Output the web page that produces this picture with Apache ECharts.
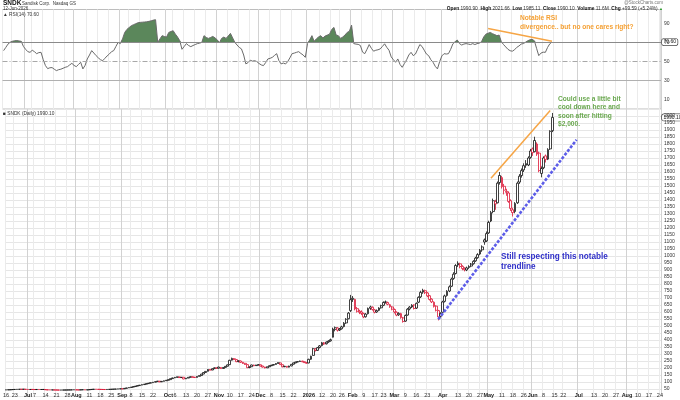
<!DOCTYPE html>
<html>
<head>
<meta charset="utf-8">
<title>SNDK daily</title>
<script src="https://cdn.jsdelivr.net/npm/echarts@6/dist/echarts.min.js"></script>
<style>
  html, body { margin: 0; padding: 0; background: #fff; }
  #chart { width: 680px; height: 400px; }
</style>
</head>
<body>
<div id="chart"></div>
<script>
// trading calendar
const firstDay = '2025-06-16';
const lastDay = '2026-08-24';
const holidays = ['2025-06-19', '2025-07-04', '2025-09-01', '2025-11-27', '2025-12-25',
  '2026-01-01', '2026-01-19', '2026-02-16', '2026-04-03', '2026-05-25', '2026-06-19', '2026-07-03'];

// daily candles: [open, close, low, high]
const jun25 = [
  [43.2,43.9,42.8,44.3],[44.0,44.6,43.6,45.0],[44.5,45.3,44.1,45.8],[45.6,46.2,45.1,46.8],[46.4,47.0,46.0,47.5],
  [47.1,47.6,46.7,48.2],[47.8,48.1,47.2,48.7],[48.2,47.9,47.4,48.6],[48.0,48.6,47.6,49.1],[48.4,47.3,46.9,48.7]
];
const jul25 = [
  [47.0,46.4,45.9,47.5],[46.5,46.9,46.1,47.3],[47.0,46.6,46.2,47.4],[46.5,46.1,45.5,46.9],[46.2,46.8,45.8,47.2],
  [46.9,46.3,45.9,47.3],[46.4,46.6,46.0,47.1],[46.5,46.9,46.1,47.4],[46.3,44.5,44.1,46.6],[44.6,43.6,43.2,45.0],
  [43.7,43.2,42.8,44.1],[43.3,43.5,42.9,44.0],[43.4,43.0,42.6,43.9],[43.1,42.6,42.1,43.5],[42.7,42.1,41.7,43.0],
  [42.2,42.4,41.8,42.9],[42.5,42.6,42.0,43.1],[42.6,42.9,42.2,43.3],[42.9,43.2,42.5,43.6],[43.2,43.4,42.9,43.9],
  [43.5,43.9,43.1,44.3],[44.0,44.5,43.6,45.0]
];
const aug25 = [
  [44.2,43.6,43.1,44.6],[43.7,43.3,42.8,44.0],[43.4,44.2,43.0,44.6],[44.3,44.8,43.9,45.3],[44.7,43.2,42.8,44.9],
  [43.4,44.5,43.0,44.9],[44.6,46.0,44.3,46.5],[46.1,47.3,45.8,47.8],[47.4,48.5,47.0,49.0],[48.4,47.9,47.4,48.9],
  [47.8,47.2,46.7,48.2],[47.3,46.8,46.2,47.7],[46.9,46.4,45.9,47.3],[46.5,46.2,45.7,46.9],[46.3,46.9,45.9,47.4],
  [47.0,47.6,46.6,48.1],[47.7,48.3,47.3,48.8],[48.4,49.0,48.0,49.6],[49.1,49.6,48.7,50.2],[49.7,50.8,49.3,51.3],
  [50.9,51.6,50.4,52.0]
];
const sep25 = [
  [51.4,51.1,50.5,52.0],[51.3,54.5,51.0,55.0],[54.7,57.6,54.2,58.2],[57.8,60.6,57.3,61.3],[60.9,63.7,60.3,64.4],
  [64.0,67.2,63.5,67.9],[67.5,70.6,66.9,71.4],[70.9,74.1,70.3,75.0],[74.4,77.6,73.7,78.5],[77.9,81.2,77.2,82.1],
  [81.5,84.6,80.8,85.5],[84.9,88.2,84.2,89.3],[88.5,91.5,87.7,92.6],[91.7,95.0,90.9,96.1],[95.3,98.7,94.5,99.9],
  [98.9,102.4,98.1,103.6],[102.7,106.3,101.8,107.6],[106.0,100.8,99.6,106.9],[101.2,104.5,100.4,105.6],[104.8,108.9,104.0,110.0],
  [109.2,112.6,108.3,113.8]
];
const oct25 = [
  [112.8,116.5,111.9,117.8],[117.0,123.8,116.4,125.0],[124.2,129.0,123.0,130.6],[129.4,133.2,127.8,134.9],[133.0,136.9,131.6,138.5],
  [136.2,131.5,130.1,137.4],[131.8,134.0,129.5,135.6],[134.2,121.5,120.2,135.0],[122.5,127.4,121.0,128.8],[128.0,133.5,126.6,134.8],
  [133.8,137.6,132.2,139.5],[137.0,134.2,132.6,138.4],[134.5,131.8,130.0,135.6],[132.4,140.2,131.6,141.8],[140.5,145.3,139.2,147.0],
  [146.0,156.4,145.0,158.0],[157.0,167.5,155.8,169.4],[168.0,175.8,166.2,177.6],[176.5,189.6,175.0,191.8],[188.0,185.4,182.6,192.0],
  [186.0,194.8,184.5,197.2],[195.5,201.3,193.4,204.0],[200.5,197.6,194.8,203.2]
];
const nov25 = [
  [198.5,206.8,196.0,209.4],[204.0,195.6,193.2,206.5],[196.5,203.8,194.4,206.0],[204.5,211.9,202.6,214.2],[212.5,222.4,210.8,225.0],
  [224.0,255.2,222.5,258.4],[256.0,268.5,253.0,274.0],[266.0,261.8,256.4,271.2],[260.0,245.0,242.0,262.5],[246.0,251.6,240.5,255.0],
  [250.0,240.2,236.8,253.4],[241.0,232.4,228.6,244.0],[233.5,226.0,222.0,236.8],[224.0,202.2,199.5,226.5],[203.5,208.4,198.0,211.2],
  [209.0,221.6,207.4,224.0],[220.5,216.2,213.0,223.8],[217.0,220.4,215.2,223.0],[221.0,224.2,219.0,226.5]
];
const dec25 = [
  [223.0,214.0,211.0,225.0],[214.5,206.2,203.4,216.0],[206.8,200.4,197.5,208.4],[201.0,208.6,199.8,210.4],[209.0,216.4,207.2,218.6],
  [216.0,220.2,213.8,222.6],[220.8,224.6,218.6,227.0],[225.0,232.2,223.4,234.4],[232.5,238.0,230.6,240.8],[236.0,224.2,221.8,237.4],
  [223.5,208.6,205.0,225.0],[209.0,212.4,206.2,215.0],[212.0,205.4,202.6,214.0],[206.0,214.0,204.2,216.2],[214.6,226.2,213.0,228.4],
  [226.8,236.4,225.0,238.6],[236.0,242.2,234.4,244.6],[242.5,246.0,240.8,247.8],[246.4,250.2,244.6,252.6],[249.5,244.2,242.0,251.0],
  [244.5,238.4,236.2,246.0],[238.8,234.0,231.5,240.2]
];
const jan26 = [
  [236,262,234,266],[262.5,284,258,288],[290,338,288,344],[336,325,318,342],[326,345,322,350],
  [346,358,340,364],[360,380,355,386],[379,372,365,385],[373,385,368,390],[386,392,380,398],
  [394,402,388,410],[420,478,418,488],[476,488,462,496],[486,470,460,492],[471,478,464,486],
  [480,494,474,502],[496,520,490,528],[522,548,515,556],[552,592,548,600],[688,610,600,722]
];
const feb26 = [
  [690,698,672,714],[690,622,612,695],[624,605,596,636],[606,598,585,616],[600,590,578,612],
  [588,565,556,595],[566,585,560,592],[588,625,582,632],[626,636,615,645],[634,618,610,640],
  [615,598,590,622],[600,610,594,618],[612,628,606,634],[630,645,624,652],[648,668,642,676],
  [670,672,660,682],[668,655,648,674],[652,638,630,658],[636,620,612,642]
];
const mar26 = [
  [618,600,590,625],[598,578,570,605],[580,590,572,598],[588,560,552,594],[558,532,524,565],
  [535,575,530,582],[578,620,574,628],[622,635,612,642],[636,648,628,656],[650,625,618,655],
  [628,662,622,668],[670,705,664,712],[708,740,700,752],[742,755,730,766],[752,738,728,760],
  [736,715,706,742],[716,690,682,722],[692,672,664,698],[670,640,632,676],[642,612,604,648],
  [610,565,540,615],[570,590,560,598]
];
const apr26 = [
  [598,672,594,680],[676,715,668,724],[718,748,710,756],[750,780,742,790],[784,835,778,845],
  [840,870,830,884],[875,932,868,942],[936,948,922,962],[944,925,912,952],[926,910,898,934],
  [912,902,890,920],[900,915,892,924],[918,925,908,934],[928,942,920,950],[945,962,938,970],
  [965,985,958,994],[988,1010,980,1020],[1014,1040,1006,1050],[1044,1065,1030,1076],[1115,1100,1080,1125],
  [1108,1160,1100,1175]
];
const may26 = [
  [1165,1240,1158,1252],[1250,1310,1242,1322],[1318,1395,1305,1410],[1390,1372,1330,1402],[1380,1520,1376,1532],
  [1525,1575,1510,1600],[1560,1495,1482,1572],[1498,1470,1440,1515],[1462,1455,1430,1480],[1450,1390,1380,1462],
  [1395,1340,1322,1405],[1330,1310,1282,1345],[1318,1375,1305,1385],[1380,1520,1372,1532],[1528,1570,1515,1585],
  [1575,1610,1560,1625],[1615,1645,1600,1662],[1660,1648,1630,1685],[1650,1700,1642,1712],[1705,1750,1695,1765]
];
const jun26 = [
  [1765,1738,1715,1775],[1745,1825,1740,1852],[1800,1728,1715,1812],[1735,1610,1598,1745],[1590,1625,1562,1640],
  [1630,1700,1620,1712],[1715,1690,1668,1725],[1692,1760,1685,1770],[1765,1890.51,1758,1898],[1895,1990.10,1885,2021.66]
];

// RSI(14), one value per candle
const rsiJun25 = [61.6, 65, 68.5, 70.5, 71.5, 72, 72.2, 71.8, 71.4, 66];
const rsiJul25 = [63, 60.5, 59.8, 62, 60.5, 58.4, 59.5, 59.8, 52, 45.8, 42.6, 43.5, 43.7, 42, 40.5, 41.5, 42, 43, 44, 44.7, 46.5, 48.2];
const rsiAug25 = [46, 44.7, 47, 49.3, 42.3, 46, 52.8, 57, 61.6, 59, 56.3, 54, 52, 51, 53.5, 56, 58, 60.5, 61.6, 66, 70.3];
const rsiSep25 = [69, 74, 80.8, 84, 86, 87.9, 89, 90, 91, 91.4, 91.6, 91.8, 92, 92.5, 93, 93.8, 94.2, 70.3, 74, 77.4, 76.5];
const rsiOct25 = [75.9, 80.8, 81.8, 82.6, 79, 75.9, 72, 63, 66, 69, 67, 65.8, 67, 68, 69, 69.5, 70.3, 77.4, 75.5, 74.5, 75.5, 76.6, 75];
const rsiNov25 = [73, 70, 74.5, 75.9, 74.5, 77, 79.8, 75, 70.3, 67.5, 65, 63.4, 57, 47.6, 49, 51.5, 50.5, 51, 50];
const rsiDec25 = [48, 46.5, 45.8, 49, 52.8, 53.5, 54.5, 56.5, 58.4, 51, 47.6, 48.5, 47.5, 50, 54, 58.4, 59, 59.8, 60.5, 58.6, 57, 54.5];
const rsiJan26 = [69, 73, 77.4, 71.4, 74, 76, 77.4, 75, 77, 78, 79, 84, 86.1, 78, 77.4, 74.5, 76, 78, 80.8, 82];
const rsiFeb26 = [88.5, 69, 68.5, 68.2, 67, 60, 58.4, 63, 68, 64, 61, 62, 62.5, 63.4, 66, 68.8, 65, 62, 55];
const rsiMar26 = [52, 49.3, 52.8, 47, 44, 48, 52, 57, 59.8, 56.3, 58, 63, 68, 66, 62, 58, 56.3, 52, 49.3, 45, 42.3, 50];
const rsiApr26 = [56, 58.4, 58, 58.4, 63, 68.8, 71, 72.8, 69, 67.5, 68.5, 69, 68.5, 68, 69, 68, 69, 69.5, 71, 76, 79];
const rsiMay26 = [80, 80.8, 79.5, 78.5, 77.4, 78, 71, 68, 65.5, 63, 61.5, 61, 62.5, 65, 66.5, 68.5, 69, 70.5, 72, 73];
const rsiJun26 = [73.5, 72, 64, 56.3, 59, 60, 59.8, 65, 68.8, 70.6];

// bottom axis labels: trading day -> text
const tickLabels = [
  ['2025-06-16','16'],['2025-06-23','23'],['2025-07-01','Jul'],['2025-07-07','7'],['2025-07-14','14'],['2025-07-21','21'],
  ['2025-07-28','28'],['2025-08-01','Aug'],['2025-08-11','11'],['2025-08-18','18'],['2025-08-25','25'],['2025-09-02','Sep'],
  ['2025-09-08','8'],['2025-09-15','15'],['2025-09-22','22'],['2025-10-01','Oct'],['2025-10-06','6'],['2025-10-13','13'],
  ['2025-10-20','20'],['2025-10-27','27'],['2025-11-03','Nov'],['2025-11-10','10'],['2025-11-17','17'],['2025-11-24','24'],
  ['2025-12-01','Dec'],['2025-12-08','8'],['2025-12-15','15'],['2025-12-22','22'],['2026-01-02','2026'],['2026-01-12','12'],
  ['2026-01-20','20'],['2026-01-26','26'],['2026-02-02','Feb'],['2026-02-09','9'],['2026-02-17','17'],['2026-02-23','23'],
  ['2026-03-02','Mar'],['2026-03-09','9'],['2026-03-16','16'],['2026-03-23','23'],['2026-04-01','Apr'],['2026-04-13','13'],
  ['2026-04-20','20'],['2026-04-27','27'],['2026-05-01','May'],['2026-05-11','11'],['2026-05-18','18'],['2026-05-26','26'],
  ['2026-06-01','Jun'],['2026-06-08','8'],['2026-06-15','15'],['2026-06-22','22'],['2026-07-01','Jul'],['2026-07-13','13'],
  ['2026-07-20','20'],['2026-07-27','27'],['2026-08-03','Aug'],['2026-08-10','10'],['2026-08-17','17'],['2026-08-24','24']
];
const rsiLevels = [10, 30, 50, 70, 90];
const rsiLast = 70.60;
const closeLast = 1990.10;

// hand-drawn trendlines [date, value]
const priceTrend = [['2026-03-30', 548], ['2026-06-30', 1830]];
const priceTop = [['2026-05-04', 1555], ['2026-06-11', 2040]];
const rsiTop = [['2026-05-01', 85], ['2026-06-12', 71.5]];

function tradingDays(from, to, skip) {
  const out = [];
  const d = new Date(from + 'T00:00:00Z');
  const end = new Date(to + 'T00:00:00Z');
  while (d <= end) {
    const wd = d.getUTCDay();
    const s = d.toISOString().slice(0, 10);
    if (wd !== 0 && wd !== 6 && skip.indexOf(s) < 0) out.push(s);
    d.setUTCDate(d.getUTCDate() + 1);
  }
  return out;
}

const days = tradingDays(firstDay, lastDay, holidays);
const tickMap = Object.fromEntries(tickLabels);
const isTick = (i, v) => v in tickMap;
const isMonth = (i, v) => v in tickMap && tickMap[v].length > 2;

const candles = [].concat(jun25, jul25, aug25, sep25, oct25, nov25, dec25, jan26, feb26, mar26, apr26, may26, jun26);
const rsi = [].concat(rsiJun25, rsiJul25, rsiAug25, rsiSep25, rsiOct25, rsiNov25, rsiDec25,
  rsiJan26, rsiFeb26, rsiMar26, rsiApr26, rsiMay26, rsiJun26);

// stockcharts colouring: red when close below previous close, hollow when close above open
const RED = '#dc1435';
const candleData = candles.map((c, i) => {
  const prev = i ? candles[i - 1][1] : c[0];
  const ink = c[1] >= prev ? '#111' : RED;
  return { value: c, itemStyle: { color: '#fff', color0: ink, borderColor: ink, borderColor0: ink } };
});

const FONT = '"Liberation Sans", Arial, sans-serif';
const GL = 2.5, GR = 19;
const ORANGE = '#f6a545';

function catAxis(grid, month, labels) {
  return {
    type: 'category', gridIndex: grid, data: days, boundaryGap: true,
    axisLine: { show: false }, axisTick: { show: false },
    axisLabel: labels ? {
      show: true, interval: isTick, margin: -4, fontSize: 5.5, color: '#333', fontFamily: FONT,
      formatter: v => tickMap[v].length > 2 ? '{b|' + tickMap[v] + '}' : tickMap[v],
      rich: { b: { fontWeight: 'bold', fontSize: 5.5, color: '#222', fontFamily: FONT } }
    } : { show: false },
    splitLine: {
      show: true, interval: month ? isMonth : isTick,
      lineStyle: { color: month ? '#d2d2d2' : '#ebebeb', width: 1 }
    }
  };
}

function seg(pts, lineStyle) {
  return [{ coord: pts[0], lineStyle: lineStyle }, { coord: pts[1] }];
}

const chart = echarts.init(document.getElementById('chart'), null, { renderer: 'canvas' });

chart.setOption({
  animation: false,
  backgroundColor: '#fff',
  grid: [
    { left: GL, right: GR, top: 9.5, height: 99.5, show: true, borderColor: '#bdbdbd', borderWidth: 1, backgroundColor: 'transparent' },
    { left: GL, right: GR, top: 109, bottom: 4 }
  ],
  xAxis: [catAxis(0, false, false), catAxis(0, true, false), catAxis(1, false, true), catAxis(1, true, false)],
  yAxis: [
    {
      type: 'value', gridIndex: 0, position: 'right', min: 0, max: 105, interval: 10,
      axisLine: { show: false }, axisTick: { show: false }, splitLine: { show: false },
      axisLabel: { margin: 3, fontSize: 5, color: '#333', fontFamily: FONT,
        formatter: v => rsiLevels.indexOf(v) >= 0 ? String(v) : '' }
    },
    {
      type: 'value', gridIndex: 1, position: 'right', min: 0, max: 2050, interval: 50,
      axisLine: { show: false }, axisTick: { show: false },
      splitLine: { show: true, lineStyle: { color: '#e6e6e6', width: 1 } },
      axisLabel: { margin: 3, fontSize: 5, color: '#333', fontFamily: FONT,
        formatter: v => (v >= 50 && v <= 2000) ? String(v) : '' }
    }
  ],
  series: [
    {
      name: 'base', type: 'line', xAxisIndex: 0, yAxisIndex: 0, stack: 'ob',
      data: rsi.map(() => 70), symbol: 'none', lineStyle: { width: 0, opacity: 0 }, silent: true, z: 1
    },
    {
      name: 'overbought', type: 'line', xAxisIndex: 0, yAxisIndex: 0, stack: 'ob',
      data: rsi.map(v => Math.max(v - 70, 0)), symbol: 'none', lineStyle: { width: 0, opacity: 0 },
      areaStyle: { color: '#5b875b', opacity: 1 }, silent: true, z: 2
    },
    {
      name: 'RSI(14)', type: 'line', xAxisIndex: 0, yAxisIndex: 0, data: rsi,
      symbol: 'none', lineStyle: { color: '#6a6a6a', width: 1 }, silent: true, z: 3,
      markLine: {
        silent: true, symbol: 'none', label: { show: false }, animation: false,
        data: [
          { yAxis: 70, lineStyle: { color: '#8a8a8a', width: 1, type: 'solid' } },
          { yAxis: 50, lineStyle: { color: '#a8a8a8', width: 1, type: [5, 2, 1, 2] } },
          { yAxis: 30, lineStyle: { color: '#b0b0b0', width: 1, type: 'solid' } },
          seg(rsiTop, { color: ORANGE, width: 1.5, type: 'solid' })
        ]
      }
    },
    {
      name: 'SNDK', type: 'candlestick', xAxisIndex: 2, yAxisIndex: 1, data: candleData,
      barWidth: 2.3, itemStyle: { borderWidth: 0.8 }, silent: true, z: 3,
      markLine: {
        silent: true, symbol: 'none', label: { show: false }, animation: false,
        data: [
          seg(priceTrend, { color: '#5d5de8', width: 2.6, type: [3, 1.6] }),
          seg(priceTop, { color: ORANGE, width: 1.5, type: 'solid' })
        ]
      }
    }
  ]
});

// value boxes on the right axes, placed through the axes
const yR = chart.convertToPixel({ yAxisIndex: 0 }, rsiLast);
const yP = chart.convertToPixel({ yAxisIndex: 1 }, closeLast);
const boxStyle = {
  fontSize: 5, fontFamily: FONT, fill: '#111', backgroundColor: '#fff', borderColor: '#444',
  borderWidth: 0.7, borderRadius: 2, padding: [1, 1.5, 0.5, 1.5], verticalAlign: 'middle', align: 'left'
};
const small = { fontSize: 5, fontFamily: FONT, fill: '#333' };

chart.setOption({
  graphic: [
    { type: 'text', x: 3, y: 0, style: { text: 'SNDK', fontSize: 6.5, fontWeight: 'bold', fontFamily: FONT, fill: '#111' } },
    { type: 'text', x: 22, y: 1, style: Object.assign({ text: 'Sandisk Corp.  Nasdaq GS' }, small, { fontSize: 4.5 }) },
    { type: 'text', x: 3, y: 6.5, style: Object.assign({ text: '12-Jun-2026' }, small, { fontSize: 4.5 }) },
    { type: 'text', x: 663, y: 0, style: Object.assign({ text: '@StockCharts.com', align: 'right' }, small, { fontSize: 4.5, fill: '#777' }) },
    {
      type: 'text', x: 663, y: 6.5,
      style: {
        align: 'right', fontSize: 4.8, fontFamily: FONT, fill: '#333',
        text: '{b|Open} 1990.90  {b|High} 2021.66  {b|Low} 1985.11  {b|Close} 1990.10  {b|Volume} 11.6M  {b|Chg} +99.59 (+5.24%) {g|▲}',
        rich: { b: { fontWeight: 'bold', fontSize: 4.8, fontFamily: FONT, fill: '#111' }, g: { fontSize: 4, fill: '#2a9a2a' } }
      }
    },
    { type: 'text', x: 3, y: 12.5, style: Object.assign({ text: '▲ RSI(14) 70.60' }, small, { fontSize: 4.8 }) },
    { type: 'text', x: 3, y: 111, style: Object.assign({ text: '■ SNDK (Daily) 1990.10' }, small, { fontSize: 4.8 }) },
    { type: 'text', x: 662, y: yR, style: Object.assign({ text: '70.60' }, boxStyle) },
    { type: 'text', x: 662, y: yP, style: Object.assign({ text: '1990.10' }, boxStyle) },
    {
      type: 'text', x: 520, y: 14,
      style: { text: 'Notable RSI\ndivergence.. but no one cares right?', fontSize: 6.6, lineHeight: 9,
        fontWeight: 'bold', fontFamily: FONT, fill: '#f5a033' }
    },
    {
      type: 'text', x: 558, y: 95,
      style: { text: 'Could use a little bit\ncool down here and\nsoon after hitting\n$2,000.', fontSize: 6.6, lineHeight: 8.4,
        fontWeight: 'bold', fontFamily: FONT, fill: '#6aa84f' }
    },
    {
      type: 'text', x: 501, y: 252,
      style: { text: 'Still respecting this notable\ntrendline', fontSize: 8.2, lineHeight: 10,
        fontWeight: 'bold', fontFamily: FONT, fill: '#2f2fc8' }
    }
  ]
});

window.addEventListener('resize', chart.resize);
</script>
</body>
</html>
